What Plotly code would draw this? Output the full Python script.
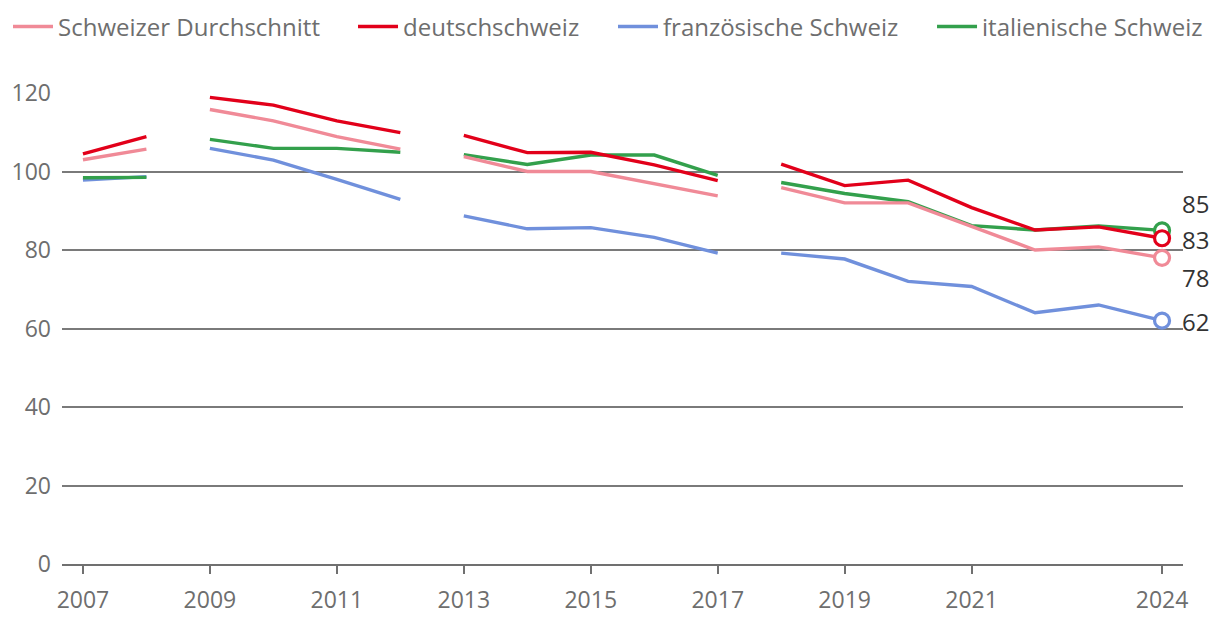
import plotly.graph_objects as go

years = [2007, 2008, 2009, 2010, 2011, 2012, 2013, 2014, 2015, 2016, 2017,
         2018, 2019, 2020, 2021, 2022, 2023, 2024]
# series are interrupted after these years (methodological breaks)
break_after = [2008, 2012, 2017]

series_names = ["Schweizer Durchschnitt", "deutschschweiz", "französische Schweiz", "italienische Schweiz"]
schweiz = [103, 105.7, 115.8, 112.9, 108.9, 105.7, 103.8, 100, 100, 97, 93.8,
           95.9, 92, 92, 85.9, 80, 80.8, 78]
deutsch = [104.5, 108.9, 118.9, 116.9, 112.9, 109.9, 109.2, 104.8, 104.9, 101.7, 97.7,
           101.9, 96.4, 97.8, 90.8, 85.1, 85.9, 83]
franz = [97.8, 98.7, 105.9, 102.9, 98, 92.9, 88.7, 85.4, 85.7, 83.2, 79.2,
         79.2, 77.7, 72, 70.7, 64, 66, 62]
ital = [98.4, 98.5, 108.2, 105.9, 105.9, 104.9, 104.3, 101.8, 104.2, 104.2, 99,
        97.2, 94.4, 92.3, 86.2, 85.1, 86.1, 85]
colors = ["#f08a97", "#e2001a", "#7090dc", "#33a04c"]

xticks = [2007, 2009, 2011, 2013, 2015, 2017, 2019, 2021, 2024]
yticks = [0, 20, 40, 60, 80, 100, 120]

def with_breaks(xs, ys):
    ox, oy = [], []
    for x, y in zip(xs, ys):
        ox.append(x)
        oy.append(y)
        if x in break_after:
            ox.append(None)
            oy.append(None)
    return ox, oy

fig = go.Figure()
all_series = [schweiz, deutsch, franz, ital]
legend_ids = ["legend", "legend2", "legend3", "legend4"]
# draw order: blue, green, pink, red on top
order = [2, 3, 0, 1]
for i in order:
    bx, by = with_breaks(years, all_series[i])
    fig.add_trace(go.Scatter(
        x=bx, y=by, mode="lines", name=series_names[i],
        line=dict(color=colors[i], width=3.4),
        connectgaps=False, legend=legend_ids[i], hoverinfo="skip",
    ))
for i in order:
    fig.add_trace(go.Scatter(
        x=[years[-1]], y=[all_series[i][-1]], mode="markers",
        marker=dict(symbol="circle", size=15, color="white",
                    line=dict(color=colors[i], width=3.2)),
        showlegend=False, cliponaxis=False, hoverinfo="skip",
    ))

# vertical pixel offsets of the end labels to avoid overlap
end_shifts = {0: -20, 1: -1, 2: -1, 3: 27}
for i in range(4):
    v = all_series[i][-1]
    fig.add_annotation(
        x=years[-1], y=v, text=f"{v:g}", showarrow=False,
        xanchor="left", yanchor="middle", xshift=18, yshift=end_shifts[i],
        font=dict(size=24, color="#333333", family="Open Sans"),
    )

legend_x = [-0.005, 0.2828, 0.4959, 0.7574]
legend_style = dict(orientation="h", xref="container", yref="container",
                    xanchor="left", y=0.970, yanchor="middle",
                    font=dict(size=24, color="#6e6e6e"), itemwidth=40,
                    bgcolor="rgba(0,0,0,0)")
layout_legends = {}
for i, lid in enumerate(legend_ids):
    layout_legends[lid] = dict(legend_style, x=legend_x[i])

fig.update_layout(
    width=1220, height=632,
    margin=dict(l=54, r=45, t=85, b=76, autoexpand=False),
    paper_bgcolor="white", plot_bgcolor="white",
    font=dict(family="Open Sans", size=23, color="#6e6e6e"),
    showlegend=True,
    xaxis=dict(range=[2006.67, 2024.33], tickvals=xticks, ticktext=[str(t) for t in xticks],
               showgrid=False, showline=True, linecolor="#707070", linewidth=2,
               ticks="outside", ticklen=8, tickwidth=2, tickcolor="#707070",
               zeroline=False, ticklabelstandoff=6,
               tickfont=dict(size=23, color="#6e6e6e")),
    yaxis=dict(range=[0, 120], tickvals=yticks, showgrid=True, gridcolor="#7a7a7a",
               gridwidth=1.5, zeroline=False, showline=False, ticks="",
               ticklabelstandoff=10, tickfont=dict(size=23, color="#6e6e6e")),
    **layout_legends,
)

fig.write_html("out.html")
